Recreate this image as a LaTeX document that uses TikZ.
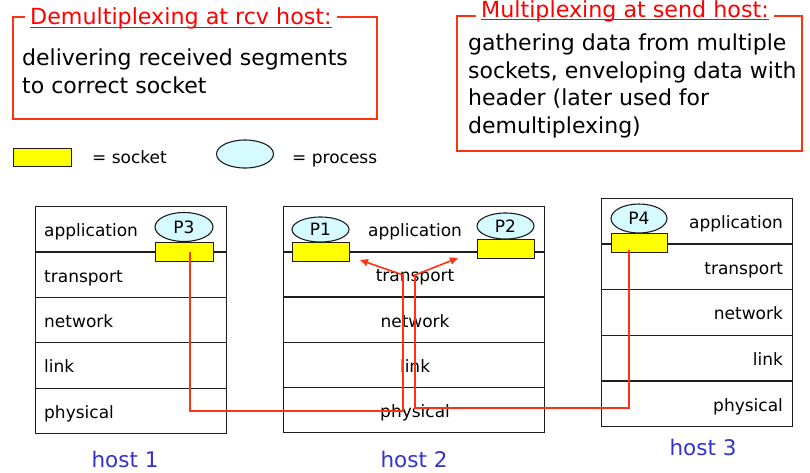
\documentclass[tikz,border=0pt]{standalone}
\usepackage{fontspec}
\setmainfont{DejaVu Sans}
\usetikzlibrary{arrows.meta,calc,shapes.geometric}
\definecolor{boxred}{RGB}{255,51,17}
\definecolor{titlered}{RGB}{255,0,0}
\definecolor{sockyellow}{RGB}{255,255,0}
\definecolor{proccyan}{RGB}{213,250,255}
\definecolor{hostblue}{RGB}{51,51,204}
\definecolor{edgegray}{RGB}{30,30,30}
\tikzset{
  layer/.style={draw=edgegray, line width=1.1pt, minimum height=45.4pt, inner sep=0pt, anchor=north west},
  sock/.style={draw=edgegray, fill=sockyellow, line width=1.1pt, inner sep=0pt, anchor=north west},
  proc/.style={ellipse, draw=edgegray, fill=proccyan, line width=1.1pt, inner sep=0pt, font=\fontsize{17}{17}\selectfont},
  lbl/.style={font=\fontsize{17}{17}\selectfont, inner sep=0pt},
  hostlbl/.style={text=hostblue, font=\fontsize{21.5}{21.5}\selectfont, inner sep=0pt},
  msgbox/.style={draw=boxred, line width=1.6pt},
  ttl/.style={text=titlered, fill=white, font=\fontsize{22.2}{22.2}\selectfont, inner xsep=5pt, inner ysep=1pt, anchor=base west},
  uline/.style={draw=titlered, line width=1pt},
  body/.style={align=left, inner sep=0pt, anchor=west},
  conn/.style={draw=boxred, line width=1.6pt},
  tip/.style={-{Triangle[length=8pt,width=7pt]}}
}
\begin{document}
\begin{tikzpicture}[x=1pt,y=-1pt]
\useasboundingbox (0,0) rectangle (810,473);

% message boxes
\node[msgbox, minimum width=364pt, minimum height=102pt, anchor=north west, inner sep=0pt] (mbl) at (12,16) {};
\node[ttl] (tl) at (25,25) {Demultiplexing at rcv host:};
\draw[uline] ($(tl.base west)+(5,2.5)$) -- ($(tl.base east)+(-5,2.5)$);
\node[body, font=\fontsize{22}{28}\selectfont] (bl) at (22,71.3) {delivering received segments\\to correct socket};

\node[msgbox, minimum width=345pt, minimum height=135pt, anchor=north west, inner sep=0pt] (mbr) at (456,15) {};
\node[ttl] (tr) at (476,17.5) {Multiplexing at send host:};
\draw[uline] ($(tr.base west)+(5,2.5)$) -- ($(tr.base east)+(-5,2.5)$);
\node[body, font=\fontsize{22}{27.7}\selectfont] (br) at (468,86) {gathering data from multiple\\sockets, enveloping data with\\header (later used for\\demultiplexing)};

% legend
\node[sock, minimum width=58pt, minimum height=18pt] (ls) at (13,148) {};
\node[lbl, anchor=base west] (lst) at (92,164) {= socket};
\node[proc, minimum width=57pt, minimum height=28pt] (lp) at (245,154) {};
\node[lbl, anchor=base west] (lpt) at (292,164) {= process};

% host 1
\foreach \i/\t in {0/application,1/transport,2/network,3/link,4/physical}{
  \node[layer, minimum width=191pt] (ha\i) at (35,{206+45.4*\i}) {};
  \node[lbl, anchor=base west] (ta\i) at ($(ha\i.west)+(9,7.5)$) {\t};
}
% host 2
\foreach \i/\t in {0/application,1/transport,2/network,3/link,4/physical}{
  \node[layer, minimum width=261pt] (hb\i) at (283,{206+45.2*\i}) {};
  \node[lbl, anchor=base] (tb\i) at ($(hb\i.center)+(1,7.5)$) {\t};
}
% host 3
\foreach \i/\t in {0/application,1/transport,2/network,3/link,4/physical}{
  \node[layer, minimum width=191pt] (hc\i) at (601,{198+45.6*\i}) {};
  \node[lbl, anchor=base east] (tc\i) at ($(hc\i.east)+(-10,7.5)$) {\t};
}

% processes and sockets
\node[proc, minimum width=58pt, minimum height=29pt] (p3) at (184,227) {P3};
\node[sock, minimum width=58pt, minimum height=19pt] (s3) at (155,242) {};
\node[proc, minimum width=57pt, minimum height=25pt] (p1) at (320.5,229.5) {P1};
\node[sock, minimum width=57pt, minimum height=19pt] (s1) at (292,242) {};
\node[proc, minimum width=57pt, minimum height=26pt] (p2) at (505.5,226) {P2};
\node[sock, minimum width=57pt, minimum height=19pt] (s2) at (477,239) {};
\node[proc, minimum width=56pt, minimum height=29pt] (p4) at (639,218.5) {P4};
\node[sock, minimum width=56pt, minimum height=19pt] (s4) at (611,233) {};

% host labels
\node[hostlbl] (n1) at (125,459) {host 1};
\node[hostlbl] (n2) at (414,459) {host 2};
\node[hostlbl] (n3) at (703,447) {host 3};

% connectors
\coordinate (a0) at (190,252);
\coordinate (a1) at (403,411);
\coordinate (a2) at (403,275);
\coordinate (a3) at (360,260);
\coordinate (b0) at (629,250);
\coordinate (b1) at (415,408);
\coordinate (b2) at (415,275);
\coordinate (b3) at (458,258);
\draw[conn, tip] (a0) |- (a1) -- (a2) -- (a3);
\draw[conn, tip] (b0) |- (b1) -- (b2) -- (b3);
\end{tikzpicture}
\end{document}
